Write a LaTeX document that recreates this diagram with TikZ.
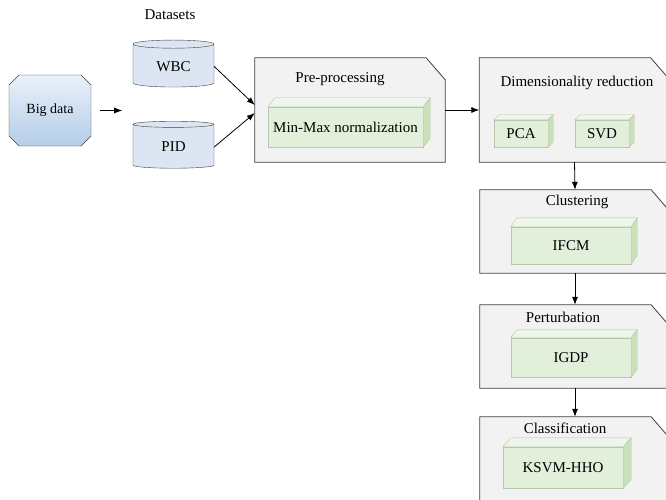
\documentclass[tikz,border=0pt]{standalone}
\usepackage{fontspec}
\setmainfont{Liberation Serif}
\usetikzlibrary{shapes.geometric, shapes.misc, arrows.meta, positioning, calc}

\definecolor{stagefill}{HTML}{F2F2F2}
\definecolor{stageline}{HTML}{3F3F3F}
\definecolor{cubefront}{HTML}{E2EFDA}
\definecolor{cubetop}{HTML}{EEF5EA}
\definecolor{cubeside}{HTML}{C9E0B8}
\definecolor{cubeline}{HTML}{B9C6AE}
\definecolor{dbfill}{HTML}{DCE6F2}
\definecolor{bigtop}{HTML}{EAF1FA}
\definecolor{bigbottom}{HTML}{B4CDE8}

\begin{document}
\begin{tikzpicture}[x=1pt, y=-1pt,
  font=\fontsize{15}{18}\selectfont,
  stage/.style={rectangle, minimum width=190, inner sep=0pt},
  cube/.style={draw=cubeline, fill=cubefront, rectangle, inner sep=0pt},
  db/.style={cylinder, shape border rotate=90, aspect=0.2, draw=stageline, fill=dbfill, minimum width=81, minimum height=47},
  arrow/.style={-{Latex[length=8pt, width=6pt]}, line width=0.8pt}
]
\useasboundingbox (0,0) rectangle (666,500);

\node[chamfered rectangle, chamfered rectangle xsep=5pt, chamfered rectangle ysep=5pt,
  draw=stageline, top color=bigtop, bottom color=bigbottom,
  minimum width=82, minimum height=71, inner sep=0pt,
  font=\fontsize{14}{16}\selectfont] (big) at (50,110.5) {Big data};

\node (datasets) at (170,15) {Datasets};
\node[db] (wbc) at (173.5,66.5) {WBC};
\node[db] (pid) at (173.5,147) {PID};

% stages
\node[stage, minimum height=104] (pre) at (350,110) {};
\node[stage, minimum height=104] (dim) at (574.5,110) {};
\node[stage, minimum height=83] (clus) at (575,231.5) {};
\node[stage, minimum height=83] (pert) at (575,346.5) {};
\node[stage, minimum height=85] (cls) at (575,459.5) {};

\foreach \s in {pre,dim,clus,pert,cls}
  \filldraw[fill=stagefill, draw=stageline, line width=0.8pt]
    (\s.south west) -- (\s.north west) -- ([xshift=-19pt]\s.north east)
    -- ([yshift=-22pt]\s.north east) -- (\s.south east) -- cycle;

\node (prelbl) at (340,79) {Pre-processing};
\node (dimlbl) at (577,83) {Dimensionality reduction};
\node (cluslbl) at (577,202) {Clustering};
\node (pertlbl) at (563,317) {Perturbation};
\node (clslbl) at (565,428) {Classification};

% methods
\node[cube, minimum width=155, minimum height=40] (minmax) at (345.5,127) {Min-Max normalization};
\node[cube, minimum width=54, minimum height=27] (pca) at (521,133.5) {PCA};
\node[cube, minimum width=54, minimum height=27] (svd) at (602,133.5) {SVD};
\node[cube, minimum width=120, minimum height=37] (ifcm) at (571,245.5) {IFCM};
\node[cube, minimum width=120, minimum height=39] (igdp) at (571,357.5) {IGDP};
\node[cube, minimum width=120, minimum height=41] (ksvm) at (563,467.5) {KSVM-HHO};

\foreach \c/\dx/\dy in {minmax/7/9, pca/5/5, svd/5/5, ifcm/6/9, igdp/6/8, ksvm/8/9} {
  \filldraw[fill=cubetop, draw=cubeline] (\c.north west) -- ++(\dx,-\dy)
    -- ($(\c.north east)+(\dx,-\dy)$) -- (\c.north east) -- cycle;
  \filldraw[fill=cubeside, draw=cubeline] (\c.north east) -- ++(\dx,-\dy)
    -- ($(\c.south east)+(\dx,-\dy)$) -- (\c.south east) -- cycle;
}

\draw[arrow] ([xshift=9pt]big.east) -- ([xshift=31pt]big.east);
\draw[arrow] (wbc.east) -- ([yshift=5pt]pre.west);
\draw[arrow] (pid.east) -- ([yshift=-3pt]pre.west);
\draw[arrow] (pre.east) -- (dim.west);
\draw[arrow] (dim.south) -- (clus.north);
\draw[arrow] (clus.south) -- (pert.north);
\draw[arrow] (pert.south) -- (cls.north);

\end{tikzpicture}
\end{document}
